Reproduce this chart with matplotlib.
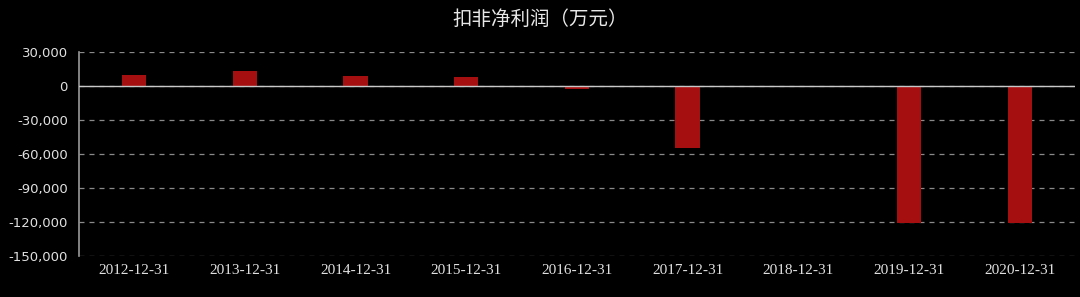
import matplotlib
matplotlib.use("Agg")
import matplotlib.pyplot as plt
from matplotlib.ticker import FuncFormatter

categories = ["2012-12-31", "2013-12-31", "2014-12-31", "2015-12-31", "2016-12-31",
              "2017-12-31", "2018-12-31", "2019-12-31", "2020-12-31"]
values = [10000, 13400, 8400, 7500, -2500, -54500, 0, -120500, -120500]
yticks = [30000, 0, -30000, -60000, -90000, -120000, -150000]
title = "扣非净利润（万元）"

plt.rcParams['font.family'] = ['Noto Sans CJK SC', 'DejaVu Sans']

fig = plt.figure(figsize=(10.8, 2.97), dpi=100, facecolor='black')
ax = fig.add_axes([0.0731, 0.138, 0.9223, 0.687])
ax.set_facecolor('black')

x = list(range(len(categories)))
ax.bar(x, values, width=0.22, color='#A50F0F', zorder=3)

ax.set_xlim(-0.5, len(categories) - 0.5)
ax.set_ylim(-150000, 30000)
ax.set_yticks(yticks)
ax.yaxis.set_major_formatter(FuncFormatter(lambda v, p: f"{int(v):,}"))
ax.set_xticks(x)
ax.set_xticklabels(categories, family=['Liberation Serif'], fontsize=11, color='#e0e0e0')
for lab in ax.get_yticklabels():
    lab.set_family(['DejaVu Sans'])
    lab.set_fontsize(9.5)
    lab.set_color('#e0e0e0')

ax.tick_params(axis='both', length=0, pad=8)
ax.tick_params(axis='x', pad=6)

ax.grid(axis='y', linestyle=(0, (4, 4)), color='#8a8a8a', linewidth=0.9, zorder=0)
ax.axhline(0, color='#c8c8c8', linewidth=1.0, zorder=4)

for s in ['top', 'right', 'bottom']:
    ax.spines[s].set_visible(False)
ax.spines['left'].set_color('#9a9a9a')
ax.spines['left'].set_linewidth(1.2)

fig.text(0.5, 0.935, title, ha='center', va='center', color='#e8e8e8', fontsize=14)

fig.savefig('out.png', dpi=100, facecolor='black')
